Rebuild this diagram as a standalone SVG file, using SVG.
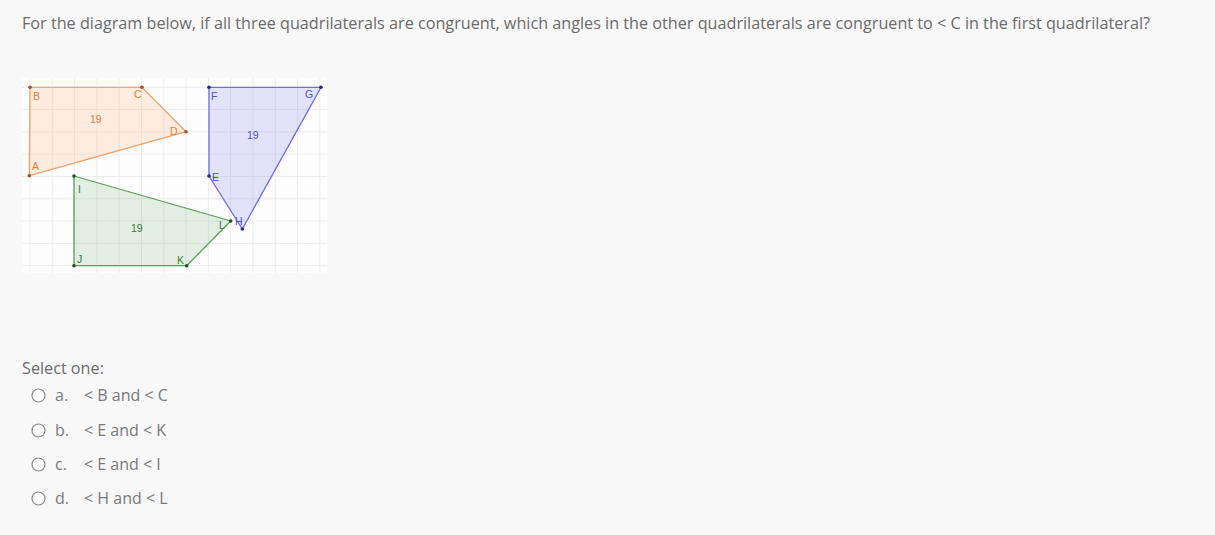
<svg xmlns="http://www.w3.org/2000/svg" width="1215" height="535" viewBox="0 0 1215 535">
<defs>
<style>
.t{font-family:"Open Sans",sans-serif;font-size:16.2px;fill:#6b6b6b}
.o{font-family:"Open Sans",sans-serif;font-size:16px;fill:#7a7a7a}
.g{stroke:#ececec;stroke-width:1}
.lb{font-family:"Liberation Sans",Arial,sans-serif;font-size:10.5px}
.radio{fill:#fff;stroke:#8a8a8a;stroke-width:1.2}
</style>
</defs>
<rect width="1215" height="535" fill="#f8f8f8"/>
<text class="t" x="22" y="29">For the diagram below, if all three quadrilaterals are congruent, which angles in the other quadrilaterals are congruent to &lt; C in the first quadrilateral?</text>
<g id="figure">
<rect x="22" y="78" width="305" height="195" fill="#fdfdfd"/>
<g id="grid">
<path class="g" d="M30 78V273M52.3 78V273M74.6 78V273M96.9 78V273M119.2 78V273M141.5 78V273M163.8 78V273M186.1 78V273M208.4 78V273M230.7 78V273M253 78V273M275.3 78V273M297.6 78V273M319.9 78V273M22 87.3H327M22 109.6H327M22 131.9H327M22 154.2H327M22 176.5H327M22 198.8H327M22 221.1H327M22 243.4H327M22 265.7H327"/>
</g>
<g id="quad-ABCD">
<polygon points="30,87.3 142,87.3 186,131.7 29.3,175.7" fill="#ff9a50" fill-opacity="0.17" stroke="#f2a36a" stroke-width="1.3"/>
<g fill="#a0522d"><circle cx="30" cy="87.3" r="1.8"/><circle cx="142" cy="87.3" r="1.8"/><circle cx="186" cy="131.7" r="1.8"/><circle cx="29.3" cy="175.7" r="1.8"/></g>
<g class="lb" fill="#e8803a"><text x="33" y="100">B</text><text x="134" y="98">C</text><text x="170" y="135">D</text><text x="32" y="170">A</text><text x="90" y="123">19</text></g>
</g>
<g id="quad-EFGH">
<polygon points="209,87.3 321,87.3 242.3,229 209,176" fill="#5c5cf0" fill-opacity="0.17" stroke="#7070e0" stroke-width="1.3"/>
<g fill="#2a2a7a"><circle cx="209" cy="87.3" r="1.8"/><circle cx="321" cy="87.3" r="1.8"/><circle cx="242.3" cy="229" r="1.8"/><circle cx="209" cy="176" r="1.8"/></g>
<g class="lb" fill="#5050d0"><text x="211" y="100">F</text><text x="305" y="98">G</text><text x="212" y="181">E</text><text x="235" y="225">H</text><text x="247" y="139">19</text></g>
</g>
<g id="quad-IJKL">
<polygon points="74,176 230.7,221 186.7,265.7 74,265.7" fill="#4a9a4a" fill-opacity="0.15" stroke="#5aa05a" stroke-width="1.3"/>
<g fill="#2a4a2a"><circle cx="74" cy="176" r="1.8"/><circle cx="230.7" cy="221" r="1.8"/><circle cx="186.7" cy="265.7" r="1.8"/><circle cx="74" cy="265.7" r="1.8"/></g>
<g class="lb" fill="#3d7a3d"><text x="78" y="193">I</text><text x="77" y="263">J</text><text x="177" y="264">K</text><text x="219" y="229">L</text><text x="131" y="232">19</text></g>
</g>
</g>
<text class="t" x="22" y="374">Select one:</text>
<g id="options">
<circle class="radio" cx="38.5" cy="395.5" r="6.5"/><text class="o" x="55" y="401">a.</text><text class="o" x="84" y="401">&lt; B and &lt; C</text>
<circle class="radio" cx="38.5" cy="430.5" r="6.5"/><text class="o" x="55" y="436">b.</text><text class="o" x="84" y="436">&lt; E and &lt; K</text>
<circle class="radio" cx="38.5" cy="464.5" r="6.5"/><text class="o" x="55" y="470">c.</text><text class="o" x="84" y="470">&lt; E and &lt; I</text>
<circle class="radio" cx="38.5" cy="498.5" r="6.5"/><text class="o" x="55" y="504">d.</text><text class="o" x="84" y="504">&lt; H and &lt; L</text>
</g>
</svg>
